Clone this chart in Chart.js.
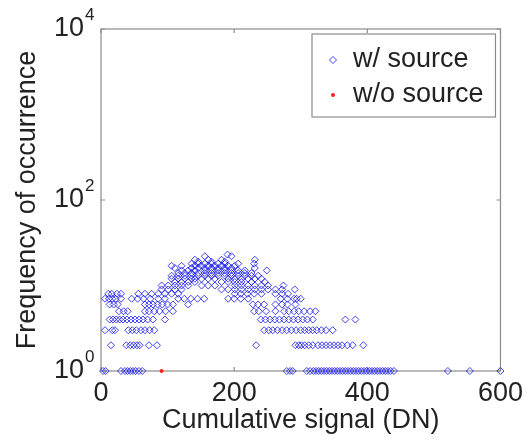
<!DOCTYPE html>
<html>
<head>
<meta charset="utf-8">
<script src="https://cdn.jsdelivr.net/npm/chart.js@4/dist/chart.umd.min.js"></script>
<style>
  html, body { margin: 0; padding: 0; background: #fff; }
  #wrap { width: 529px; height: 448px; }
</style>
</head>
<body>
<div id="wrap"><canvas id="chart" width="529" height="448"></canvas></div>
<script>
// cumulative signal (DN) values seen at each frequency, w/ source
const f1 = [3, 7, 30, 36, 40, 44, 48, 52, 57, 62, 279, 284, 288, 309, 314, 319, 323, 327, 331, 335, 339, 343, 347, 351, 355, 359, 363, 367, 371, 375, 379, 383, 387, 391, 395, 399, 403, 407, 411, 415, 419, 423, 427, 431, 435, 440, 521, 554, 600];
const f2 = [15, 38, 44, 49, 54, 58, 72, 84, 233, 292, 297, 301, 306, 312, 318, 326, 332, 338, 344, 350, 356, 362, 370, 378, 394];
const f3 = [6, 17, 21, 41, 47, 53, 60, 66, 73, 80, 245, 252, 258, 265, 272, 279, 286, 293, 300, 306, 312, 318, 324, 331, 338, 348];
const f4 = [13, 18, 23, 28, 33, 39, 45, 51, 57, 63, 70, 78, 96, 240, 247, 254, 261, 268, 275, 282, 289, 296, 303, 310, 318, 367, 382];
const f5 = [27, 34, 40, 66, 72, 80, 88, 97, 108, 230, 237, 248, 262, 275, 282, 290, 297, 305, 314, 322];
const f6 = [13, 19, 25, 66, 72, 78, 85, 92, 100, 108, 131, 228, 236, 245, 262, 272, 280, 292];
const f7 = [6, 12, 17, 22, 30, 46, 55, 64, 74, 86, 96, 116, 125, 135, 145, 155, 191, 200, 210, 221, 270, 280, 290, 294, 300];
const f8 = [11, 16, 24, 30, 56, 66, 76, 86, 96, 106, 116, 201, 210, 220, 230, 241, 262, 272, 281];
const f9 = [91, 101, 111, 121, 181, 191, 201, 211, 221, 231, 241, 251, 262, 272, 291];
const f10 = [91, 101, 111, 121, 131, 151, 161, 171, 201, 211, 221, 231, 241, 251, 274];
const f11 = [111, 121, 131, 141, 181, 191, 201, 211, 226, 246];
const f12 = [106, 116, 126, 136, 141, 151, 161, 171, 191, 201, 211, 221, 231, 241];
const f13 = [106, 116, 126, 136, 146, 156, 166, 176, 186, 196, 206, 216, 226, 236];
const f14 = [116, 126, 136, 146, 156, 166, 176, 186, 196, 206, 216, 226];
const f15 = [121, 131, 141, 156, 166, 176, 186, 196, 206, 216, 249];
const f16 = [111, 136, 146, 156, 166, 176, 186, 196, 231];
const f17 = [106, 121, 141, 151, 161, 171, 181, 191, 201];
const f18 = [136, 146, 156, 166, 176, 186, 206, 230];
const f19 = [146, 166, 186];
const f20 = [141, 161, 181, 231];
const f22 = [156, 196];
const f23 = [190];

// w/o source
const noSrcX = [91];
const noSrcY = [1];

const xTicks = [0, 200, 400, 600];
const yTicks = [1, 100, 10000];
const yExp = ['0', '2', '4'];

const levels = [
  [1, f1], [2, f2], [3, f3], [4, f4], [5, f5], [6, f6], [7, f7], [8, f8],
  [9, f9], [10, f10], [11, f11], [12, f12], [13, f13], [14, f14], [15, f15],
  [16, f16], [17, f17], [18, f18], [19, f19], [20, f20], [22, f22], [23, f23]
];

const withSrc = [];
levels.forEach(([freq, xs]) => xs.forEach(x => withSrc.push({ x: x, y: freq })));
const withoutSrc = noSrcX.map((x, i) => ({ x: x, y: noSrcY[i] }));

const FONT = '"Liberation Sans", Arial, Helvetica, sans-serif';
const BLUE = 'rgba(20, 20, 235, 0.8)';
const RED = '#ff2020';

// matlab-style box, inward ticks, 10^n labels and legend
const matlabAxes = {
  id: 'matlabAxes',
  beforeDatasetsDraw(chart) {
    const { ctx, chartArea: a, scales: { x, y } } = chart;
    ctx.save();
    ctx.strokeStyle = '#8c8c8c';
    ctx.lineWidth = 1.2;
    ctx.strokeRect(a.left, a.top, a.right - a.left, a.bottom - a.top);
    ctx.beginPath();
    xTicks.forEach(v => {
      const px = x.getPixelForValue(v);
      ctx.moveTo(px, a.bottom); ctx.lineTo(px, a.bottom - 4);
      ctx.moveTo(px, a.top); ctx.lineTo(px, a.top + 4);
    });
    yTicks.forEach(v => {
      const py = y.getPixelForValue(v);
      ctx.moveTo(a.left, py); ctx.lineTo(a.left + 4, py);
      ctx.moveTo(a.right, py); ctx.lineTo(a.right - 4, py);
    });
    ctx.stroke();

    ctx.fillStyle = '#222';
    ctx.textBaseline = 'middle';
    yTicks.forEach((v, i) => {
      const py = y.getPixelForValue(v);
      ctx.font = '27px ' + FONT;
      ctx.textAlign = 'right';
      ctx.fillText('10', a.left - 17, py);
      ctx.font = '17px ' + FONT;
      ctx.textAlign = 'left';
      ctx.fillText(yExp[i], a.left - 16, py - 14);
    });
    ctx.restore();
  },
  afterDatasetsDraw(chart) {
    const { ctx, chartArea: a } = chart;
    const ds = chart.data.datasets;
    const bx = 312, by = a.top + 5, bw = a.right - 5 - bx, bh = 83;
    ctx.save();
    ctx.fillStyle = '#fff';
    ctx.fillRect(bx, by, bw, bh);
    ctx.strokeStyle = '#8c8c8c';
    ctx.lineWidth = 1.2;
    ctx.strokeRect(bx, by, bw, bh);
    ctx.font = '27px ' + FONT;
    ctx.textAlign = 'left';
    ctx.textBaseline = 'middle';
    ds.forEach((d, i) => {
      const cy = by + 26 + i * 35;
      ctx.strokeStyle = d.borderColor;
      ctx.fillStyle = d.backgroundColor;
      ctx.lineWidth = d.borderWidth;
      ctx.beginPath();
      if (d.pointStyle === 'rectRot') {
        const r = d.pointRadius;
        ctx.moveTo(333, cy - r); ctx.lineTo(333 + r, cy); ctx.lineTo(333, cy + r); ctx.lineTo(333 - r, cy); ctx.closePath();
        ctx.stroke();
      } else {
        ctx.arc(333, cy, d.pointRadius, 0, Math.PI * 2);
        ctx.fill();
      }
      ctx.fillStyle = '#222';
      ctx.fillText(d.label, 353, cy);
    });
    ctx.restore();
  }
};

new Chart(document.getElementById('chart'), {
  type: 'scatter',
  data: {
    datasets: [
      {
        label: 'w/ source',
        data: withSrc,
        pointStyle: 'rectRot',
        pointRadius: 3.5,
        borderWidth: 1,
        borderColor: BLUE,
        backgroundColor: 'rgba(0,0,0,0)',
        clip: false
      },
      {
        label: 'w/o source',
        data: withoutSrc,
        pointStyle: 'circle',
        pointRadius: 2,
        borderWidth: 0,
        borderColor: RED,
        backgroundColor: RED,
        clip: false
      }
    ]
  },
  options: {
    responsive: false,
    animation: false,
    layout: { padding: { top: 29, right: 26, left: 0, bottom: 0 } },
    plugins: { legend: { display: false }, tooltip: { enabled: false } },
    scales: {
      x: {
        type: 'linear',
        min: 0,
        max: 600,
        afterBuildTicks: s => { s.ticks = xTicks.map(v => ({ value: v })); },
        afterFit: s => { s.height = 77; },
        grid: { display: false, drawTicks: false },
        border: { display: false },
        ticks: { color: '#222', padding: 6, maxRotation: 0, font: { family: FONT, size: 27 } },
        title: {
          display: true,
          text: 'Cumulative signal (DN)',
          color: '#222',
          font: { family: FONT, size: 27 },
          padding: { top: 0, bottom: 11 }
        }
      },
      y: {
        type: 'logarithmic',
        min: 1,
        max: 10000,
        afterFit: s => { s.width = 101; },
        grid: { display: false, drawTicks: false },
        border: { display: false },
        ticks: { display: false },
        title: {
          display: true,
          text: 'Frequency of occurrence',
          color: '#222',
          font: { family: FONT, size: 27 },
          padding: { top: 11, bottom: 0 }
        }
      }
    }
  },
  plugins: [matlabAxes]
});
</script>
</body>
</html>
